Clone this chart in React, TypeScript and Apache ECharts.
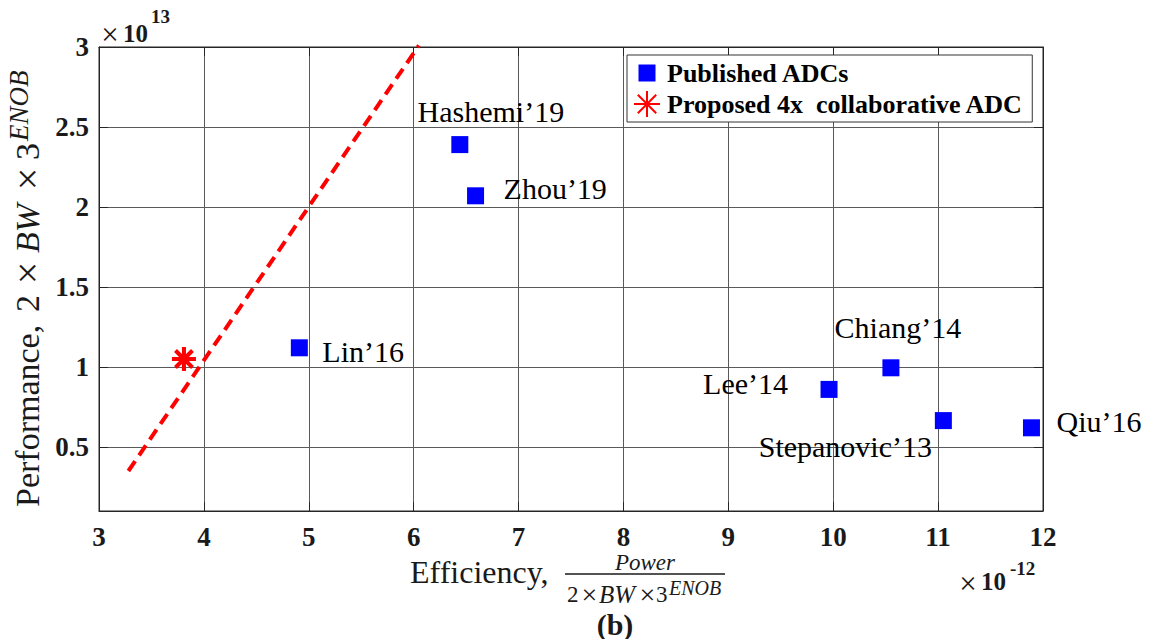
import React, { useEffect, useRef } from "react";
import * as echarts from "echarts";

// Published ADCs: efficiency (x1e-12) vs performance (x1e13)
const adcNames = ["Hashemi’19", "Zhou’19", "Lin’16", "Lee’14", "Chiang’14", "Stepanovic’13", "Qiu’16"];
const adcEfficiency = [6.44, 6.59, 4.91, 9.96, 10.55, 11.05, 11.89];
const adcPerformance = [2.39, 2.07, 1.12, 0.86, 0.995, 0.665, 0.62];

// Proposed design
const proposedEfficiency = [3.81];
const proposedPerformance = [1.05];

// Dashed trend line end points
const trendEfficiency = [3.28, 6.05];
const trendPerformance = [0.35, 3.01];

const xRange = [3, 12];
const yRange = [0.1, 3];
const yTickValues = [0.5, 1, 1.5, 2, 2.5, 3];

const seriesNames = ["Published ADCs", "Proposed 4x  collaborative ADC"];

// Label placement next to each marker (align, [dx, dy] in px)
const labelPlacement: Record<string, { align: string; offset: number[] }> = {
  "Hashemi’19": { align: "center", offset: [31, -33] },
  "Zhou’19": { align: "left", offset: [28, -7] },
  "Lin’16": { align: "left", offset: [23, 4] },
  "Lee’14": { align: "right", offset: [-41, -6] },
  "Chiang’14": { align: "center", offset: [7, -40] },
  "Stepanovic’13": { align: "center", offset: [-98, 26] },
  "Qiu’16": { align: "left", offset: [25, -6] },
};

const SERIF = "'Liberation Serif', 'Times New Roman', serif";
const INK = "#1a1a1a";
const ASTERISK = "path://M0,-10L0,10M-10,0L10,0M-7.07,-7.07L7.07,7.07M-7.07,7.07L7.07,-7.07";
// Legend square: a 17px square inside a 26px box (corner dots keep the box size)
const LEGEND_SQUARE = "path://M0,0L0.01,0L0,0.01Z M26,26L25.99,26L26,25.99Z M4.5,4.5L21.5,4.5L21.5,21.5L4.5,21.5Z";

type Piece = {
  text: string;
  x: number;
  y: number;
  size: number;
  italic?: boolean;
  bold?: boolean;
  align?: string;
  rotate?: boolean;
};

// One plain text graphic element
function txt(p: Piece) {
  return {
    type: "text",
    x: p.x,
    y: p.y,
    rotation: p.rotate ? Math.PI / 2 : 0,
    style: {
      text: p.text,
      fontFamily: SERIF,
      fontSize: p.size,
      fontStyle: p.italic ? "italic" : "normal",
      fontWeight: p.bold ? "bold" : "normal",
      fill: INK,
      align: p.align || "left",
      verticalAlign: "middle",
    },
  };
}

export default function App() {
  const ref = useRef<HTMLDivElement>(null);

  useEffect(() => {
    if (!ref.current) return;
    const chart = echarts.init(ref.current, undefined, { renderer: "svg" });

    const adcData = adcNames.map((name, i) => {
      const p = labelPlacement[name];
      return {
        name,
        value: [adcEfficiency[i], adcPerformance[i]],
        label: {
          show: true,
          formatter: name,
          position: "inside",
          align: p.align,
          verticalAlign: "middle",
          offset: p.offset,
        },
      };
    });

    const tickStyle = { show: true, inside: true, length: 9, lineStyle: { color: "#262626", width: 1 } };
    const boxLine = { show: true, onZero: false, lineStyle: { color: "#262626", width: 1 } };

    // Axis titles, exponents and panel tag
    const pieces: Piece[] = [
      // y-axis exponent
      { text: "×", x: 110, y: 34, size: 31, align: "center" },
      { text: "10", x: 123, y: 33, size: 25, bold: true },
      { text: "13", x: 151, y: 16, size: 19, bold: true },
      // x-axis exponent
      { text: "×", x: 968, y: 583, size: 31, align: "center" },
      { text: "10", x: 981, y: 581, size: 25, bold: true },
      { text: "-12", x: 1010, y: 568, size: 19, bold: true },
      // x-axis title
      { text: "Efficiency,", x: 410, y: 572, size: 32 },
      { text: "Power", x: 645, y: 562, size: 23, italic: true, align: "center" },
      { text: "2", x: 567, y: 594, size: 23 },
      { text: "×", x: 589.5, y: 594, size: 28, align: "center" },
      { text: "BW", x: 599, y: 594, size: 25, italic: true },
      { text: "×", x: 647.5, y: 594, size: 28, align: "center" },
      { text: "3", x: 656, y: 594, size: 23 },
      { text: "ENOB", x: 669, y: 588, size: 20, italic: true },
      // y-axis title (reads bottom to top)
      { text: "Performance,", x: 27, y: 507, size: 34, rotate: true },
      { text: "2", x: 27, y: 312, size: 34, rotate: true },
      { text: "×", x: 27, y: 273, size: 40, align: "center", rotate: true },
      { text: "BW", x: 27, y: 253, size: 34, italic: true, rotate: true },
      { text: "×", x: 27, y: 179, size: 40, align: "center", rotate: true },
      { text: "3", x: 27, y: 160, size: 34, rotate: true },
      { text: "ENOB", x: 19, y: 141, size: 27, italic: true, rotate: true },
      // panel tag
      { text: "(b)", x: 615, y: 624, size: 30, bold: true, align: "center" },
    ];

    chart.setOption({
      animation: false,
      grid: {
        left: 99,
        right: 114,
        top: 47,
        bottom: 128,
        show: true,
        borderColor: "#262626",
        borderWidth: 1,
        backgroundColor: "#fff",
      },
      xAxis: [
        {
          type: "value",
          min: xRange[0],
          max: xRange[1],
          interval: 1,
          axisLine: boxLine,
          axisTick: tickStyle,
          axisLabel: {
            margin: 12,
            fontFamily: SERIF,
            fontWeight: "bold",
            fontSize: 27,
            color: INK,
          },
          splitLine: { show: true, lineStyle: { color: "#5a5a5a", width: 1 } },
        },
        {
          type: "value",
          position: "top",
          min: xRange[0],
          max: xRange[1],
          interval: 1,
          axisLine: boxLine,
          axisTick: tickStyle,
          axisLabel: { show: false },
          splitLine: { show: false },
        },
      ],
      yAxis: [
        {
          type: "value",
          min: yRange[0],
          max: yRange[1],
          axisLine: boxLine,
          axisTick: { ...tickStyle, customValues: yTickValues },
          axisLabel: {
            customValues: yTickValues,
            margin: 10,
            fontFamily: SERIF,
            fontWeight: "bold",
            fontSize: 27,
            color: INK,
          },
          splitLine: { show: true, lineStyle: { color: "#5a5a5a", width: 1 } },
        },
        {
          type: "value",
          position: "right",
          min: yRange[0],
          max: yRange[1],
          axisLine: boxLine,
          axisTick: { ...tickStyle, customValues: yTickValues },
          axisLabel: { show: false, customValues: yTickValues },
          splitLine: { show: false },
        },
      ],
      legend: {
        data: [{ name: seriesNames[0], icon: LEGEND_SQUARE }, { name: seriesNames[1] }],
        orient: "vertical",
        left: 627,
        top: 55,
        padding: [5, 9, 4, 6],
        itemGap: 4,
        itemWidth: 26,
        itemHeight: 26,
        backgroundColor: "#fff",
        borderColor: "#333",
        borderWidth: 1,
        borderRadius: 0,
        textStyle: {
          fontFamily: SERIF,
          fontWeight: "bold",
          fontSize: 26,
          lineHeight: 26,
          color: "#000",
          padding: [0, 0, 0, 2],
        },
      },
      series: [
        {
          type: "line",
          name: "trend",
          data: trendEfficiency.map((x, i) => [x, trendPerformance[i]]),
          symbol: "none",
          clip: false,
          lineStyle: { color: "#ff0000", width: 4, type: [12, 7] },
          z: 3,
        },
        {
          type: "scatter",
          name: seriesNames[0],
          data: adcData,
          symbol: "rect",
          symbolSize: 17,
          itemStyle: { color: "#0000ff", opacity: 1 },
          label: {
            color: "#000",
            fontFamily: SERIF,
            fontSize: 30,
            textBorderWidth: 0,
          },
          z: 4,
        },
        {
          type: "scatter",
          name: seriesNames[1],
          data: proposedEfficiency.map((x, i) => [x, proposedPerformance[i]]),
          symbol: ASTERISK,
          symbolSize: 24,
          itemStyle: { color: "rgba(0,0,0,0)", borderColor: "#ff0000", borderWidth: 4, opacity: 1 },
          z: 5,
        },
      ],
      graphic: {
        elements: [
          ...pieces.map(txt),
          { type: "line", shape: { x1: 565, y1: 574, x2: 725, y2: 574 }, style: { stroke: INK, lineWidth: 1.5 } },
        ],
      },
    });

    return () => chart.dispose();
  }, []);

  return (
    <div
      ref={ref}
      style={{ position: "absolute", left: 0, top: 0, width: 1157, height: 639, background: "#fff" }}
    />
  );
}
